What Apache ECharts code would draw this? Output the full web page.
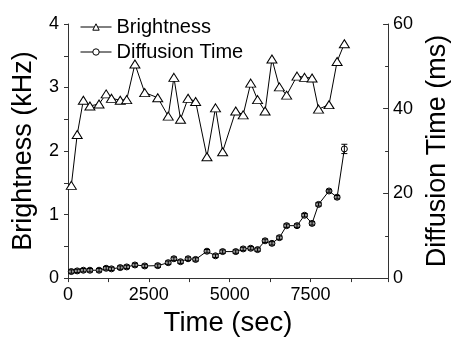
<!DOCTYPE html>
<html>
<head>
<meta charset="utf-8">
<script src="https://cdn.jsdelivr.net/npm/echarts@6/dist/echarts.min.js"></script>
<style>html,body{margin:0;padding:0;background:#fff}#c{width:459px;height:342px}</style>
</head>
<body>
<div id="c"></div>
<script>
const times = [103, 285, 475, 678, 960, 1180, 1344, 1616, 1816, 2070, 2373, 2776, 3100, 3275, 3481, 3714, 3947, 4298, 4562, 4783, 5188, 5418, 5651, 5863, 6096, 6308, 6538, 6762, 7083, 7316, 7549, 7749, 8073, 8324, 8548];
const brightness = [1.46, 2.26, 2.80, 2.71, 2.74, 2.90, 2.83, 2.80, 2.81, 3.37, 2.92, 2.84, 2.55, 3.16, 2.50, 2.83, 2.78, 1.91, 2.68, 1.99, 2.63, 2.57, 3.07, 2.81, 2.63, 3.45, 3.01, 2.88, 3.18, 3.16, 3.15, 2.66, 2.73, 3.41, 3.69];
const diffusion = [1.55, 1.70, 1.86, 1.86, 1.86, 2.32, 2.18, 2.48, 2.64, 3.10, 2.87, 2.94, 3.64, 4.57, 3.87, 4.57, 4.41, 6.35, 5.26, 6.26, 6.26, 6.89, 7.05, 6.73, 8.81, 8.21, 9.55, 12.38, 12.38, 14.84, 12.92, 17.40, 20.57, 19.10, 30.5];
const diffusionErr = [0.4, 0.4, 0.4, 0.4, 0.4, 0.4, 0.4, 0.4, 0.4, 0.4, 0.4, 0.4, 0.4, 0.4, 0.4, 0.4, 0.4, 0.4, 0.4, 0.4, 0.4, 0.4, 0.4, 0.4, 0.4, 0.4, 0.4, 0.4, 0.4, 0.4, 0.4, 0.4, 0.3, 0.4, 1.1];
const xTicks = [0, 2500, 5000, 7500];
const seriesNames = ['Brightness', 'Diffusion Time'];

const FONT = "'Liberation Sans', Arial, sans-serif";
const axisLineStyle = {color: '#333', width: 1};
const openMarker = {color: '#fff', borderColor: '#000', borderWidth: 1};

const chart = echarts.init(document.getElementById('c'), null, {renderer: 'canvas'});
chart.setOption({
  animation: false,
  backgroundColor: '#fff',
  textStyle: {fontFamily: FONT, color: '#000'},
  grid: {left: 68, right: 64, top: 24, bottom: 59, containLabel: false},
  legend: {
    data: seriesNames.map(n => ({name: n, itemStyle: openMarker, lineStyle: {color: '#000', width: 1}})),
    orient: 'vertical',
    left: 75, top: 12,
    itemWidth: 31, itemHeight: 8, itemGap: 5,
    textStyle: {fontSize: 20, color: '#000', fontFamily: FONT},
    inactiveColor: '#000'
  },
  xAxis: {
    type: 'value', min: 0, max: 9900, interval: 2500,
    name: 'Time (sec)', nameLocation: 'middle', nameGap: 30,
    nameTextStyle: {fontSize: 27.5, color: '#000', fontFamily: FONT},
    axisLine: {show: true, lineStyle: axisLineStyle},
    axisTick: {show: true, inside: false, length: 4, lineStyle: axisLineStyle},
    minorTick: {show: true, splitNumber: 2, length: 4, lineStyle: axisLineStyle},
    axisLabel: {fontSize: 18, color: '#000', margin: 8, fontFamily: FONT, showMaxLabel: false,
      formatter: v => xTicks.indexOf(v) >= 0 ? String(v) : ''},
    splitLine: {show: false}
  },
  yAxis: [{
    type: 'value', min: 0, max: 4, interval: 1, position: 'left',
    name: 'Brightness (kHz)', nameLocation: 'middle', nameGap: 31,
    nameTextStyle: {fontSize: 27, color: '#000', fontFamily: FONT},
    axisLine: {show: true, lineStyle: axisLineStyle},
    axisTick: {show: true, inside: false, length: 4, lineStyle: axisLineStyle},
    minorTick: {show: true, splitNumber: 2, length: 4, lineStyle: axisLineStyle},
    axisLabel: {fontSize: 18, color: '#000', margin: 9, fontFamily: FONT},
    splitLine: {show: false}
  }, {
    type: 'value', min: 0, max: 60, interval: 20, position: 'right',
    name: 'Diffusion Time (ms)', nameLocation: 'middle', nameGap: 34,
    nameTextStyle: {fontSize: 27, color: '#000', fontFamily: FONT},
    axisLine: {show: true, lineStyle: axisLineStyle},
    axisTick: {show: true, inside: true, length: 5, lineStyle: axisLineStyle},
    minorTick: {show: true, splitNumber: 2, length: 3, lineStyle: axisLineStyle},
    axisLabel: {fontSize: 18, color: '#000', margin: 5, fontFamily: FONT},
    splitLine: {show: false}
  }],
  series: [{
    name: seriesNames[0], type: 'line', yAxisIndex: 0,
    data: times.map((t, i) => [t, brightness[i]]),
    symbol: 'triangle', symbolSize: [10, 8],
    lineStyle: {color: '#000', width: 1},
    itemStyle: openMarker,
    z: 3
  }, {
    name: seriesNames[1], type: 'line', yAxisIndex: 1,
    data: times.map((t, i) => ({
      value: [t, diffusion[i]],
      itemStyle: {color: diffusionErr[i] > 0.8 ? '#fff' : '#9a9a9a'}
    })),
    symbol: 'circle', symbolSize: 6,
    lineStyle: {color: '#000', width: 1},
    itemStyle: openMarker,
    z: 3
  }, {
    name: 'err', type: 'custom', yAxisIndex: 1,
    data: times.map((t, i) => [t, diffusion[i] - diffusionErr[i], diffusion[i] + diffusionErr[i]]),
    encode: {x: 0, y: [1, 2]},
    z: 5,
    renderItem: function (params, api) {
      const x = api.value(0);
      const p1 = api.coord([x, api.value(2)]);
      const p2 = api.coord([x, api.value(1)]);
      const w = 3;
      const st = {stroke: '#000', lineWidth: 1};
      return {type: 'group', children: [
        {type: 'line', shape: {x1: p1[0], y1: p1[1], x2: p2[0], y2: p2[1]}, style: st},
        {type: 'line', shape: {x1: p1[0] - w, y1: p1[1], x2: p1[0] + w, y2: p1[1]}, style: st},
        {type: 'line', shape: {x1: p2[0] - w, y1: p2[1], x2: p2[0] + w, y2: p2[1]}, style: st}
      ]};
    }
  }]
});
</script>
</body>
</html>
